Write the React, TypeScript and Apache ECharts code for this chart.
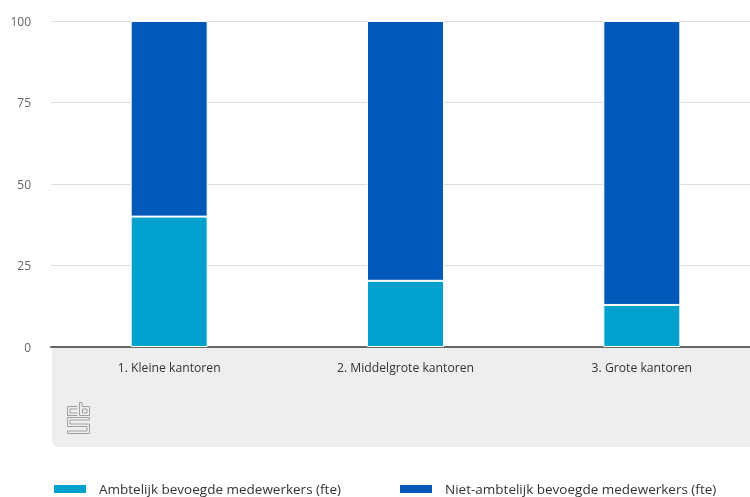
import React, { useEffect, useRef } from "react";
import * as echarts from "echarts";

const categories = ["1. Kleine kantoren", "2. Middelgrote kantoren", "3. Grote kantoren"];
const ambtelijk = [40, 20.3, 12.9];
const nietAmbtelijk = [60, 79.7, 87.1];
const yTicks = { min: 0, max: 100, interval: 25 };

const logoPath =
  "M10,4 H0 V13 H10 M10,6.5 H2.5 V10.5 H10 " +
  "M12,0 V13 H22 V4 H14.5 V0 Z M15,6.5 H19.5 V10.5 H15 Z " +
  "M22,15 H0 V24 H19.5 V28.5 H0 V31 H22 V21.5 H2.5 V17.5 H22 Z";

let registered = false;

export default function App() {
  const ref = useRef<HTMLDivElement>(null);
  useEffect(() => {
    if (!registered) {
      echarts.graphic.registerShape("cbslogo", echarts.graphic.extendPath(logoPath, {}) as any);
      registered = true;
    }
    const chart = echarts.init(ref.current!, null, { renderer: "svg" });
    const font = "'Open Sans', sans-serif";
    const legendCommon = {
      top: 482,
      padding: 0,
      itemWidth: 34,
      itemHeight: 10,
      icon: "rect",
      textStyle: { color: "#333333", fontSize: 13.5, fontFamily: font, padding: [0, 0, 0, 7] },
    };
    chart.setOption({
      animation: false,
      textStyle: { fontFamily: font },
      grid: {
        left: 51,
        width: 709,
        top: 21,
        bottom: 150,
        containLabel: false,
        outerBoundsMode: "none",
      },
      graphic: [
        {
          type: "rect",
          z: -10,
          shape: { x: 52, y: 347, width: 698, height: 100, r: [0, 0, 0, 6] },
          style: { fill: "#eeeeee" },
        },
        {
          type: "cbslogo",
          z: -5,
          x: 67.5,
          y: 402.5,
          scaleX: 1,
          scaleY: 1,
          style: { fill: "none", stroke: "#a0a0a0", lineWidth: 1 },
        },
      ],
      xAxis: {
        type: "category",
        data: categories,
        axisLine: { lineStyle: { color: "#666666", width: 2 } },
        axisTick: { show: false },
        axisLabel: { color: "#333333", fontSize: 12.2, margin: 14, fontFamily: font },
      },
      yAxis: {
        type: "value",
        min: yTicks.min,
        max: yTicks.max,
        interval: yTicks.interval,
        axisLine: { show: false },
        axisTick: { show: false },
        axisLabel: { color: "#666666", fontSize: 12, margin: 20, fontFamily: font },
        splitLine: { lineStyle: { color: "#dddddd", width: 1 } },
      },
      legend: [
        { ...legendCommon, data: ["Ambtelijk bevoegde medewerkers (fte)"], left: 52 },
        { ...legendCommon, data: ["Niet-ambtelijk bevoegde medewerkers (fte)"], left: 398 },
      ],
      series: [
        {
          name: "Ambtelijk bevoegde medewerkers (fte)",
          type: "bar",
          stack: "total",
          barWidth: 77,
          data: ambtelijk,
          itemStyle: { color: "#00a1cd", borderColor: "#ffffff", borderWidth: 1 },
        },
        {
          name: "Niet-ambtelijk bevoegde medewerkers (fte)",
          type: "bar",
          stack: "total",
          barWidth: 77,
          data: nietAmbtelijk,
          itemStyle: { color: "#0058b8", borderColor: "#ffffff", borderWidth: 1 },
        },
      ],
    });
    return () => chart.dispose();
  }, []);
  return (
    <div
      ref={ref}
      style={{ position: "fixed", left: 0, top: 0, width: 750, height: 497 }}
    />
  );
}
